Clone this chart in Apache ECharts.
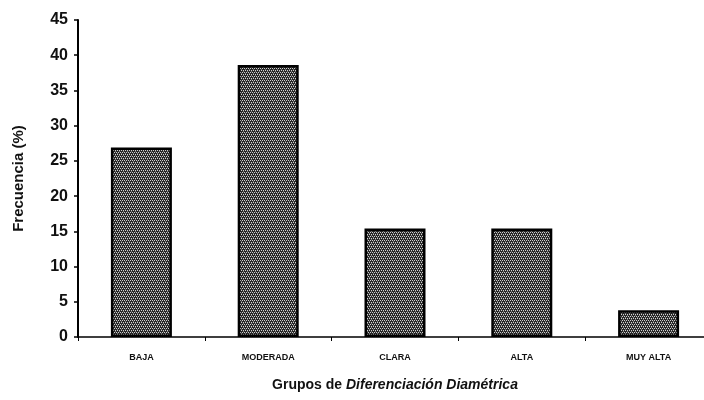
<!DOCTYPE html>
<html>
<head>
    <meta charset="UTF-8">
    <title>Grupos de Diferenciación Diamétrica</title>
    <script src="https://cdn.jsdelivr.net/npm/echarts@6/dist/echarts.min.js"></script>
    <style>
        html, body { margin: 0; padding: 0; background: #fff; overflow: hidden; }
        #main { width: 712px; height: 400px; }
    </style>
</head>
<body>
<div id="main"></div>
<script>
    var categorias = ['BAJA', 'MODERADA', 'CLARA', 'ALTA', 'MUY ALTA'];
    var frecuencia = [26.9, 38.6, 15.4, 15.4, 3.8];
    var yMin = 0, yMax = 45, yPaso = 5;

    // trama punteada de las barras
    function trama() {
        var c = document.createElement('canvas');
        c.width = 4; c.height = 4;
        var ctx = c.getContext('2d');
        ctx.fillStyle = '#262626';
        ctx.fillRect(0, 0, 4, 4);
        ctx.fillStyle = '#cfcfcf';
        ctx.fillRect(0, 0, 1, 1);
        ctx.fillRect(2, 0, 1, 1);
        ctx.fillRect(1, 2, 1, 1);
        ctx.fillRect(3, 2, 1, 1);
        ctx.fillStyle = '#6e6e6e';
        ctx.fillRect(1, 1, 1, 1);
        ctx.fillRect(3, 3, 1, 1);
        return c;
    }

    var fuente = '"Liberation Sans", Arial, sans-serif';
    var myChart = echarts.init(document.getElementById('main'));
    var option = {
        animation: false,
        backgroundColor: '#fff',
        grid: {
            left: 78,
            right: 0,
            top: 20,
            bottom: 63
        },
        xAxis: {
            type: 'category',
            data: categorias,
            axisLine: { lineStyle: { color: '#000', width: 1.5 } },
            axisTick: { show: true, length: 4, lineStyle: { color: '#000' } },
            axisLabel: {
                margin: 16,
                color: '#111',
                fontFamily: fuente,
                fontWeight: 'bold',
                fontSize: 9
            },
            name: '{a|Grupos de }{b|Diferenciación Diamétrica}',
            nameLocation: 'middle',
            nameGap: 41,
            nameTextStyle: {
                rich: {
                    a: { fontFamily: fuente, fontWeight: 'bold', fontSize: 14, color: '#111' },
                    b: { fontFamily: fuente, fontWeight: 'bold', fontStyle: 'italic', fontSize: 14, color: '#111' }
                }
            }
        },
        yAxis: {
            type: 'value',
            min: yMin,
            max: yMax,
            interval: yPaso,
            splitLine: { show: false },
            axisLine: { show: true, lineStyle: { color: '#000', width: 2 } },
            axisTick: { show: true, length: 4, lineStyle: { color: '#000', width: 1.5 } },
            axisLabel: {
                margin: 10,
                color: '#111',
                fontFamily: fuente,
                fontWeight: 'bold',
                fontSize: 16
            },
            name: 'Frecuencia (%)',
            nameLocation: 'middle',
            nameGap: 52,
            nameTextStyle: {
                fontFamily: fuente,
                fontWeight: 'bold',
                fontSize: 15,
                color: '#111'
            }
        },
        series: [
            {
                type: 'bar',
                data: frecuencia,
                barWidth: 61,
                itemStyle: {
                    color: { image: trama(), repeat: 'repeat' },
                    borderColor: '#000',
                    borderWidth: 2.5
                }
            }
        ]
    };
    myChart.setOption(option);
</script>
</body>
</html>
